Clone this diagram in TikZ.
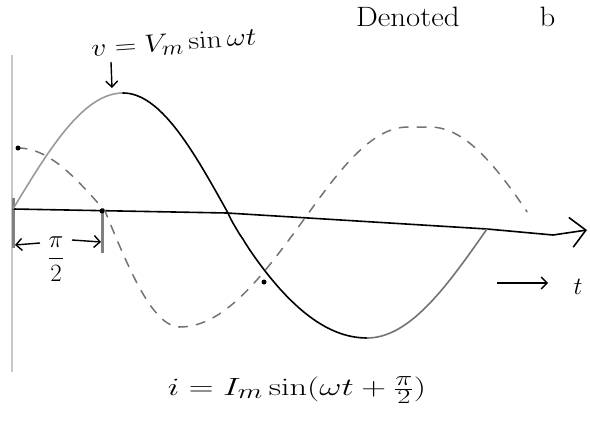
\documentclass[tikz,border=0pt]{standalone}
\usetikzlibrary{arrows.meta}
\begin{document}
\begin{tikzpicture}[x=1pt,y=-1pt,
  curve/.style={line width=1.6pt, line cap=round, line join=round},
  faint/.style={curve, draw=black!40},
  dashcurve/.style={line width=1.5pt, draw=black!55, dash pattern=on 9pt off 9pt, line cap=round},
  lbl/.style={inner sep=0pt, font=\fontsize{28}{32}\selectfont},
  dotmark/.style={circle, fill=black, inner sep=0pt, minimum size=5pt},
  tip/.style={-{Straight Barb[length=6pt,width=12pt]}, line width=1.4pt}
]
\useasboundingbox (0,0) rectangle (590,423);
% faint vertical axis
\draw[black!22, line width=2pt] (12,55) -- (12,372);
% ticks
\draw[black!50, line width=3pt] (13,198) -- (13,248);
\draw[black!50, line width=3pt] (102,208) -- (102,253);
% time axis
\draw[curve, -{Straight Barb[length=15pt,width=30pt]}] (13,209) -- (227,213) -- (487,229) -- (553,235) -- (587,230);
% v curve
\draw[faint] plot[domain=0:90, samples=40, variable=\t] ({13+110*\t/90}, {209-116*sin(\t)});
\draw[curve] plot[domain=0:90, samples=40, variable=\t] ({123+105*\t/90}, {93+120*(1-cos(\t))})
  -- plot[domain=0.5:90, samples=40, variable=\t] ({228+139*pow(\t/90,1.12)}, {213+125*sin(\t)});
\draw[curve, draw=black!55] plot[domain=0:90, samples=40, variable=\t] ({367+120*\t/90}, {338-109*(1-cos(\t))});
% i curve (dashed)
\draw[dashcurve] plot[domain=0:90, samples=30, variable=\t] ({18+87*\t/90}, {148+63*(1-cos(\t))})
  -- plot[domain=0:90, samples=30, variable=\t] ({105+75*\t/90}, {211+116*sin(\t)})
  -- plot[domain=0:90, samples=30, variable=\t] ({180+125*\t/90}, {327-109*(1-cos(\t))})
  -- plot[domain=0:90, samples=30, variable=\t] ({305+103*\t/90}, {218-91*sin(\t)})
  -- (430,127)
  -- plot[domain=0:78, samples=30, variable=\t] ({430+112*\t/90}, {127+107*(1-cos(\t))});
% dots
\node[dotmark] (d1) at (18,148) {};
\node[dotmark] (d2) at (102,211) {};
\node[dotmark] (d3) at (264,282) {};
% pi/2 marker
\node[lbl, font=\fontsize{24}{28}\selectfont] (half) at (56,259) {$\displaystyle\frac{\pi}{2}$};
\coordinate (la) at (40,243);
\coordinate (lb) at (15,245);
\coordinate (ra) at (72,240);
\coordinate (rb) at (101,242);
\draw[tip] (la) -- (lb);
\draw[tip] (ra) -- (rb);
% v label
\node[lbl, rotate=4] (vlab) at (174,44) {\scalebox{1.2}[1]{$v=V_m\sin\omega t$}};
\coordinate (vtail) at (111,62);
\coordinate (vpk) at (112,88);
\draw[tip] (vtail) -- (vpk);
% i label
\node[lbl] (ilab) at (297,390) {\scalebox{1.38}[1]{$i=I_m\sin(\omega t+\frac{\pi}{2})$}};
% t label
\node[lbl] (tlab) at (578,287) {$t$};
\coordinate (ts) at (497,283);
\coordinate (te) at (548,283);
\draw[tip] (ts) -- (te);
% top right text
\node[lbl, anchor=west] (den) at (356,17) {\scalebox{1.1}[1]{Denoted\hspace{2.6em}b}};
\end{tikzpicture}
\end{document}
